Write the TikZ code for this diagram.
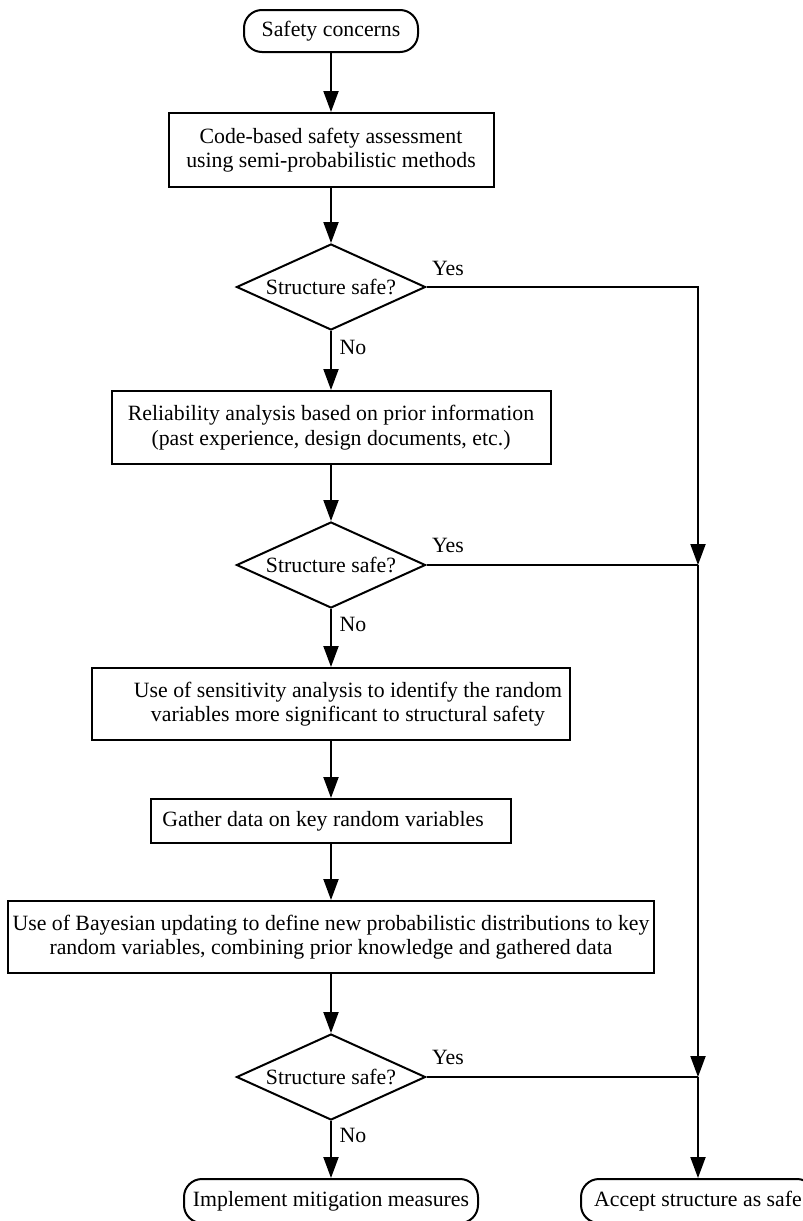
\documentclass[tikz,border=0pt]{standalone}
\usepackage{fontspec}
\setmainfont{Liberation Serif}
\usetikzlibrary{shapes.geometric,arrows.meta}
\begin{document}
\begin{tikzpicture}[x=1pt,y=-1pt,line width=2pt,
  font=\fontsize{21.8}{24.5}\selectfont,
  procbox/.style={draw,rectangle,inner sep=0pt,align=center},
  termbox/.style={draw,rectangle,rounded corners=18pt,minimum height=44pt,inner sep=0pt},
  decbox/.style={draw,diamond,aspect=2.2,minimum width=189pt,minimum height=86pt,inner sep=0pt},
  txt/.style={inner sep=0pt,align=center},
  arr/.style={-{Triangle[length=21pt,width=15pt]}}]
\path[use as bounding box] (0,0) rectangle (803,1221);
\clip (0,0) rectangle (803,1221);
% nodes
\node[termbox,minimum width=174pt,minimum height=42pt] (sc) at (331,31) {Safety concerns};
\node[procbox,minimum width=325pt,minimum height=74pt] (b1) at (331,150)
  {Code-based safety assessment\\using semi-probabilistic methods};
\node[decbox] (d1) at (331,287) {Structure safe?};
\node[procbox,minimum width=439pt,minimum height=73pt] (b2) at (331,427.5)
  {Reliability analysis based on prior information\\(past experience, design documents, etc.)};
\node[decbox] (d2) at (331,565) {Structure safe?};
\node[procbox,minimum width=478pt,minimum height=72pt] (b3) at (331,704) {};
\node[txt] (t3) at (348,704) {Use of sensitivity analysis to identify the random\\variables more significant to structural safety};
\node[procbox,minimum width=360pt,minimum height=44pt] (b4) at (331,821) {};
\node[txt] (t4) at (323,821) {Gather data on key random variables};
\node[procbox,minimum width=646pt,minimum height=72pt] (b5) at (331,937)
  {Use of Bayesian updating to define new probabilistic distributions to key\\random variables, combining prior knowledge and gathered data};
\node[decbox] (d3) at (331,1077) {Structure safe?};
\node[termbox,minimum width=294pt] (impl) at (331,1201) {Implement mitigation measures};
\node[termbox,minimum width=234pt] (acc) at (698,1201) {Accept structure as safe};
% labels
\node[txt] (y1) at (448,268) {Yes};
\node[txt] (n1) at (353,347) {No};
\node[txt] (y2) at (448,545) {Yes};
\node[txt] (n2) at (353,624) {No};
\node[txt] (y3) at (448,1057) {Yes};
\node[txt] (n3) at (353,1135) {No};
% junctions
\coordinate (c1) at (698,287);
\coordinate (j2) at (698,565);
\coordinate (j3) at (698,1077);
% connectors
\draw[arr] (sc) -- (b1);
\draw[arr] (b1) -- (d1);
\draw[arr] (d1) -- (b2);
\draw[arr] (b2) -- (d2);
\draw[arr] (d2) -- (b3);
\draw[arr] (b3) -- (b4);
\draw[arr] (b4) -- (b5);
\draw[arr] (b5) -- (d3);
\draw[arr] (d3) -- (impl);
\draw[arr] (d1.east) -- (c1) -- (j2);
\draw (d2.east) -- (j2);
\draw[arr] (j2) -- (j3);
\draw (d3.east) -- (j3);
\draw[arr] (j3) -- (acc);
\end{tikzpicture}
\end{document}
